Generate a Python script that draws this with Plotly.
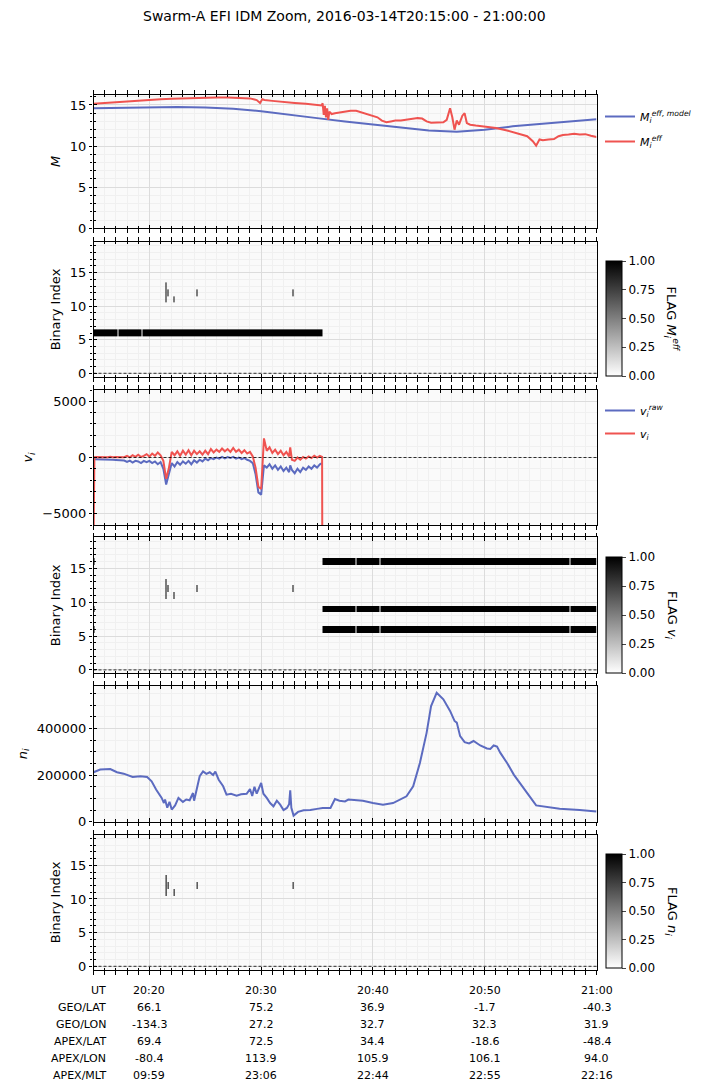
import pandas as pd
import plotly.graph_objects as go

# ---------------- data ----------------
BASE = pd.Timestamp("2016-03-14 20:15:00")
X_END = pd.Timestamp("2016-03-14 21:00:00")

# Effective ion mass (minutes after 20:15:00)
m_model_t = [0, 2.5, 5, 7.5, 10, 12.5, 15, 17.5, 20, 22.5, 25, 27.5, 30, 32.5, 35, 37.5, 40, 42.5, 45]
m_model = [14.6, 14.65, 14.7, 14.75, 14.7, 14.55, 14.25, 13.8, 13.4, 13.0, 12.65, 12.25, 11.9, 11.75,
           12.0, 12.4, 12.7, 12.95, 13.25]

m_eff_t = [0, 1, 2, 3, 4, 5, 6, 7, 8, 9, 10, 11, 12, 13, 14, 14.6, 14.9, 15.1, 15.3, 16, 17, 18, 19, 20,
           20.4, 20.5, 20.6, 20.7, 20.8, 20.9, 21.0, 21.1, 21.3, 21.6, 22, 22.5, 23, 23.5, 24, 24.5, 25,
           25.4, 25.8, 26.2, 26.6, 27, 27.5, 28, 28.5, 29, 29.4, 29.8, 30.2, 30.8, 31.3, 31.6, 31.9, 32.1,
           32.3, 32.5, 32.7, 33.0, 33.2, 33.4, 33.7, 34.2, 35, 36, 37, 38, 38.8, 39.3, 39.6, 39.9, 40.2,
           40.7, 41.2, 41.6, 42, 42.5, 43, 43.5, 44, 44.5, 45]
m_eff = [15.15, 15.25, 15.35, 15.45, 15.55, 15.6, 15.7, 15.75, 15.8, 15.85, 15.85, 15.9, 15.9, 15.85, 15.8,
         15.6, 15.25, 15.7, 15.6, 15.5, 15.35, 15.25, 15.15, 15.05, 14.95, 15.2, 13.8, 14.9, 13.5, 14.6,
         13.2, 14.2, 13.9, 14.0, 14.1, 14.2, 14.3, 14.3, 14.1, 13.9, 13.7, 13.5, 13.1, 12.9, 13.0, 13.1,
         13.1, 13.2, 13.3, 13.4, 13.35, 13.0, 12.85, 12.85, 12.9, 13.2, 14.6, 13.5, 12.0, 13.1, 12.6,
         13.7, 14.0, 12.8, 12.6, 12.5, 12.35, 12.2, 11.9, 11.5, 11.2, 10.6, 10.05, 10.8, 10.7, 10.8,
         10.85, 11.2, 11.35, 11.4, 11.5, 11.4, 11.45, 11.25, 11.1]

# Ion drift velocity (minutes after 20:15:00)
v_t = [0.0, 0.08, 0.25, 0.5, 0.75, 1.0, 1.25, 1.5, 1.75, 2.0, 2.25, 2.5, 2.75, 3.0, 3.25, 3.5, 3.75, 4.0,
       4.25, 4.5, 4.75, 5.0, 5.25, 5.5, 5.75, 6.0, 6.25, 6.5, 6.75, 7.0, 7.25, 7.5, 7.75, 8.0, 8.25, 8.5,
       8.75, 9.0, 9.25, 9.5, 9.75, 10.0, 10.25, 10.5, 10.75, 11.0, 11.25, 11.5, 11.75, 12.0, 12.25, 12.5,
       12.75, 13.0, 13.25, 13.5, 13.75, 14.0, 14.25, 14.5, 14.75, 15.0, 15.25, 15.5, 15.75, 16.0, 16.25,
       16.5, 16.75, 17.0, 17.25, 17.5, 17.6, 17.75, 18.0, 18.25, 18.5, 18.75, 19.0, 19.25, 19.5, 19.75,
       20.0, 20.25, 20.45, 20.47]
v_raw = [None, -150, -150, -160, -150, -170, -160, -180, -200, -220, -250, -300, -270, -400, -280, -450,
         -300, -350, -500, -300, -420, -300, -500, -350, -600, -400, -1000, -2400, -1500, -500, -800, -400,
         -650, -350, -550, -300, -600, -250, -450, -200, -350, -100, -250, -50, -150, 0, -100, 50, -80, 30,
         -50, 50, -100, 0, -150, -50, -200, -300, -500, -1500, -3100, -3300, -700, -900, -600, -1000, -700,
         -1100, -800, -1200, -900, -1300, -700, -1100, -1400, -1000, -1300, -900, -1100, -800, -1000, -700,
         -900, -600, -500, None]
v_i = [-8000, 30, 40, 30, 50, 40, 30, 60, 20, 50, 40, 80, 30, 150, 20, 200, 60, 250, 50, 150, 300, 80,
       350, 150, 450, 200, -300, -1900, -900, 500, 200, 550, 150, 600, 250, 650, 200, 600, 300, 550, 250,
       600, 300, 750, 450, 700, 500, 800, 550, 750, 500, 850, 500, 700, 400, 650, 350, 500, 100, -900,
       -2600, -2800, 1700, 600, 900, 400, 700, 300, 600, 200, 500, 100, 900, -200, -300, 0, -200, 50,
       -100, 100, -50, 150, 0, 150, 50, -8000]

# Ion density (minutes after 20:15:00)
n_t = [0, 0.6, 1.5, 2.1, 2.7, 3.5, 4.2, 4.8, 5.2, 5.6, 6.1, 6.3, 6.4, 6.6, 6.8, 7.0, 7.3, 7.5, 7.6, 8.0,
       8.3, 8.6, 8.9, 9.0, 9.2, 9.5, 9.8, 10.1, 10.4, 10.7, 10.9, 11.2, 11.6, 11.9, 12.3, 12.8, 13.2, 13.7,
       14.0, 14.2, 14.4, 14.6, 15.0, 15.2, 15.5, 15.8, 16.1, 16.4, 16.7, 17.0, 17.3, 17.5, 17.6, 17.7,
       17.9, 18.3, 18.8, 19.4, 20.0, 20.5, 21.2, 21.6, 22.0, 22.5, 22.8, 23.4, 24.1, 25.0, 25.9, 26.8,
       28.0, 28.6, 29.2, 29.8, 30.2, 30.7, 31.3, 31.9, 32.3, 32.5, 32.8, 33.2, 33.6, 34.0, 34.6, 35.2,
       35.5, 35.8, 36.1, 36.4, 37.0, 37.6, 38.4, 39.0, 39.6, 40.5, 41.7, 43.5, 45]
n_i = [212e3, 224e3, 226e3, 212e3, 206e3, 192e3, 195e3, 192e3, 173e3, 138e3, 102e3, 80e3, 95e3, 60e3,
       85e3, 52e3, 70e3, 95e3, 102e3, 85e3, 95e3, 92e3, 123e3, 90e3, 130e3, 195e3, 216e3, 205e3, 212e3,
       200e3, 215e3, 180e3, 152e3, 116e3, 120e3, 112e3, 118e3, 120e3, 140e3, 110e3, 150e3, 120e3, 166e3,
       120e3, 102e3, 80e3, 66e3, 90e3, 73e3, 50e3, 59e3, 75e3, 135e3, 60e3, 26e3, 42e3, 49e3, 50e3,
       55e3, 59e3, 59e3, 97e3, 90e3, 87e3, 95e3, 92e3, 90e3, 80e3, 73e3, 80e3, 109e3, 152e3, 252e3,
       381e3, 496e3, 553e3, 525e3, 475e3, 432e3, 425e3, 367e3, 341e3, 336e3, 346e3, 327e3, 314e3,
       312e3, 327e3, 322e3, 295e3, 252e3, 202e3, 152e3, 110e3, 70e3, 63e3, 56e3, 50e3, 44e3]

# Quality flags: (start minute, end minute, bit)
common_start = [6.45, 6.45, 6.45, 6.63, 7.15, 9.20, 17.80]
common_end = [6.54, 6.54, 6.54, 6.72, 7.24, 9.29, 17.89]
common_bit = [11, 12, 13, 12, 11, 12, 12]

flagM_start = [0.0, 2.24, 4.40] + common_start
flagM_end = [2.15, 4.32, 20.50] + common_end
flagM_bit = [6, 6, 6] + common_bit

flagV_start = ([0.0, 0.0, 0.0] + [20.45, 23.53, 25.68, 42.68] * 3) + common_start
flagV_end = ([0.13, 0.13, 0.13] + [23.43, 25.58, 42.58, 45.0] * 3) + common_end
flagV_bit = ([16, 9, 6] + [16] * 4 + [9] * 4 + [6] * 4) + common_bit

flagN_start = list(common_start)
flagN_end = list(common_end)
flagN_bit = list(common_bit)

N_BITS = 20

# Bottom table
ut_ticks = ["20:20", "20:30", "20:40", "20:50", "21:00"]
table_rows = ["UT", "GEO/LAT", "GEO/LON", "APEX/LAT", "APEX/LON", "APEX/MLT"]
geo_lat = ["66.1", "75.2", "36.9", "-1.7", "-40.3"]
geo_lon = ["-134.3", "27.2", "32.7", "32.3", "31.9"]
apex_lat = ["69.4", "72.5", "34.4", "-18.6", "-48.4"]
apex_lon = ["-80.4", "113.9", "105.9", "106.1", "94.0"]
apex_mlt = ["09:59", "23:06", "22:44", "22:55", "22:16"]

# ---------------- helpers ----------------
def T(mins):
    return [BASE + pd.Timedelta(minutes=m) for m in mins]


def flag_grid(starts, ends, bits):
    edges = sorted(set(starts) | set(ends))
    z = [[None] * (len(edges) - 1) for _ in range(N_BITS)]
    for k in range(len(edges) - 1):
        a, b = edges[k], edges[k + 1]
        for s, e, bit in zip(starts, ends, bits):
            if s <= a and b <= e:
                z[bit][k] = 1
    y_edges = [i - 0.5 for i in range(N_BITS + 1)]
    return T(edges), y_edges, z


BLUE = "#5c6bc0"
RED = "#ef5350"
FONT = "DejaVu Sans"
W, H = 707, 1090
XD = [93.5 / W, 596.5 / W]
panels_px = [(94.7, 228.3), (241.7, 377.3), (390, 525), (537.3, 673.3), (686, 821.7), (835, 970)]
doms = [[1 - b / H, 1 - t / H] for t, b in panels_px]

fig = go.Figure()

# Panel 1
fig.add_trace(go.Scatter(x=T(m_model_t), y=m_model, mode="lines", line=dict(color=BLUE, width=2),
                         name="<i>M<sub>i</sub><sup>eff, model</sup></i>", xaxis="x", yaxis="y",
                         legend="legend", legendgroup="a"))
fig.add_trace(go.Scatter(x=T(m_eff_t), y=m_eff, mode="lines", line=dict(color=RED, width=2),
                         name="<i>M<sub>i</sub><sup>eff</sup></i>", xaxis="x", yaxis="y",
                         legend="legend", legendgroup="b"))
# Panel 3
fig.add_trace(go.Scatter(x=T(v_t), y=v_raw, mode="lines", line=dict(color=BLUE, width=2),
                         name="<i>v<sub>i</sub><sup>raw</sup></i>", xaxis="x3", yaxis="y3", legend="legend2",
                         legendgroup="c", connectgaps=False))
fig.add_trace(go.Scatter(x=T(v_t), y=v_i, mode="lines", line=dict(color=RED, width=2),
                         name="<i>v<sub>i</sub></i>", xaxis="x3", yaxis="y3", legend="legend2",
                         legendgroup="d"))
# Panel 5
fig.add_trace(go.Scatter(x=T(n_t), y=n_i, mode="lines", line=dict(color=BLUE, width=2),
                         showlegend=False, xaxis="x5", yaxis="y5"))

# Flag heatmaps
flag_sets = [(flagM_start, flagM_end, flagM_bit, 2, "FLAG <i>M<sub>i</sub><sup>eff</sup></i>"),
             (flagV_start, flagV_end, flagV_bit, 4, "FLAG <i>v<sub>i</sub></i>"),
             (flagN_start, flagN_end, flagN_bit, 6, "FLAG <i>n<sub>i</sub></i>")]
cb_px = {2: (261, 376), 4: (557, 673), 6: (854, 968)}
cb_titles = []
for s, e, b, idx, title in flag_sets:
    xe, ye, z = flag_grid(s, e, b)
    t0, t1 = cb_px[idx]
    fig.add_trace(go.Heatmap(
        x=xe, y=ye, z=z, zmin=0, zmax=1, xaxis=f"x{idx}", yaxis=f"y{idx}",
        colorscale=[[0, "#ffffff"], [1, "#000000"]], zsmooth=False, hoverinfo="skip",
        colorbar=dict(x=606 / W, xanchor="left", y=1 - (t0 + t1) / 2 / H, yanchor="middle",
                      len=t1 - t0, lenmode="pixels", thickness=16, ypad=0, xpad=0,
                      outlinewidth=1, outlinecolor="black",
                      tickvals=[0, 0.25, 0.5, 0.75, 1], ticktext=["0.00", "0.25", "0.50", "0.75", "1.00"],
                      ticks="outside", ticklen=4, tickfont=dict(size=12, family=FONT, color="black"))))
    cb_titles.append(dict(text=title, xref="paper", yref="paper", x=672 / W, y=1 - (t0 + t1) / 2 / H,
                          xanchor="center", yanchor="middle", textangle=90, showarrow=False,
                          font=dict(size=13, family=FONT, color="black")))

yranges = [[0, 16.25], [-0.6, 19.6], [-6000, 6000], [-0.5, 19.6], [0, 582000], [-0.55, 19.5]]
ydticks = [5, 5, 5000, 5, 200000, 5]
yminor = [1, 1, 1000, 1, 50000, 1]
ytitles = ["<i>M</i>", "Binary Index", "<i>v<sub>i</sub></i>", "Binary Index", "<i>n<sub>i</sub></i>",
           "Binary Index"]

xr = [BASE, X_END]
tick0 = BASE + pd.Timedelta(minutes=5)
layout = {}
for i in range(1, 7):
    sfx = "" if i == 1 else str(i)
    layout[f"xaxis{sfx}"] = dict(
        domain=XD, anchor=f"y{sfx}", type="date", range=xr, tick0=tick0, dtick=600000,
        showticklabels=False, ticks="outside", ticklen=3.5, tickcolor="black", tickwidth=1.2,
        mirror="allticks", showline=True, linecolor="black", linewidth=1.2,
        showgrid=True, gridcolor="#dcdcdc", gridwidth=1, zeroline=False,
        minor=dict(dtick=60000, tick0=tick0, ticks="outside", ticklen=2.5, tickcolor="black",
                   showgrid=True, gridcolor="#f0f0f0", gridwidth=1),
        **({} if i == 1 else {"matches": "x"}))
    layout[f"yaxis{sfx}"] = dict(
        domain=doms[i - 1], anchor=f"x{sfx}", range=yranges[i - 1], dtick=ydticks[i - 1], tick0=0,
        ticks="outside", ticklen=3.5, tickcolor="black", tickwidth=1.2, showline=True,
        linecolor="black", linewidth=1.2, mirror=True, showgrid=True, gridcolor="#dcdcdc",
        zeroline=False, tickfont=dict(size=13, family=FONT, color="black"), tickformat="d",
        title=dict(text=ytitles[i - 1], font=dict(size=13, family=FONT, color="black"), standoff=6),
        minor=dict(dtick=yminor[i - 1], ticks="outside", ticklen=2.5, tickcolor="black",
                   showgrid=True, gridcolor="#f0f0f0"))
    # overlay axes for inward half of tick marks
    layout[f"xaxis{6 + i}"] = dict(
        overlaying=f"x{sfx}" if sfx else "x", anchor=f"y{sfx}", type="date", range=xr, tick0=tick0,
        dtick=600000, showticklabels=False, ticks="inside", ticklen=3.5, tickcolor="black",
        tickwidth=1.2, mirror="allticks", showline=False, showgrid=False, zeroline=False,
        minor=dict(dtick=60000, tick0=tick0, ticks="inside", ticklen=2.5, tickcolor="black",
                   showgrid=False))
    layout[f"yaxis{6 + i}"] = dict(
        overlaying=f"y{sfx}" if sfx else "y", anchor=f"x{sfx}", range=yranges[i - 1],
        dtick=ydticks[i - 1], tick0=0, showticklabels=False, ticks="inside", ticklen=3.5,
        tickcolor="black", tickwidth=1.2, showline=False, showgrid=False, zeroline=False,
        minor=dict(dtick=yminor[i - 1], ticks="inside", ticklen=2.5, tickcolor="black", showgrid=False))
    fig.add_trace(go.Scatter(x=[], y=[], xaxis=f"x{6 + i}", yaxis=f"y{sfx}", showlegend=False,
                             hoverinfo="skip"))
    fig.add_trace(go.Scatter(x=[], y=[], xaxis=f"x{sfx}", yaxis=f"y{6 + i}", showlegend=False,
                             hoverinfo="skip"))

shapes = []
for idx in (2, 3, 4, 6):
    shapes.append(dict(type="line", xref=f"x{idx} domain", x0=0, x1=1, yref=f"y{idx}", y0=0, y1=0,
                       line=dict(color="black", width=0.8, dash="3px,2px"), layer="above"))

annotations = [dict(text="Swarm-A EFI IDM Zoom, 2016-03-14T20:15:00 - 21:00:00", xref="paper", yref="paper",
                    x=344.5 / W, y=1 - 16 / H, xanchor="center", yanchor="middle", showarrow=False,
                    font=dict(size=14, family=FONT, color="black"))]
annotations += cb_titles
row_y = [990, 1007, 1024, 1041, 1058, 1075]
row_vals = [ut_ticks, geo_lat, geo_lon, apex_lat, apex_lon, apex_mlt]
tick_times = T([5, 15, 25, 35, 45])
for r, (lab, vals) in enumerate(zip(table_rows, row_vals)):
    annotations.append(dict(text=lab, xref="paper", yref="paper", x=108 / W, y=1 - row_y[r] / H,
                            xanchor="right", yanchor="middle", showarrow=False,
                            font=dict(size=11, family=FONT, color="black")))
    for tt, v in zip(tick_times, vals):
        annotations.append(dict(text=v, xref="x6", yref="paper", x=tt, y=1 - row_y[r] / H,
                                xanchor="center", yanchor="middle", showarrow=False,
                                font=dict(size=11, family=FONT, color="black")))

fig.update_layout(
    width=W, height=H, autosize=False, margin=dict(l=0, r=0, t=0, b=0, autoexpand=False),
    paper_bgcolor="white", plot_bgcolor="#fafafa", font=dict(family=FONT, color="black"),
    shapes=shapes, annotations=annotations,
    legend=dict(x=600 / W, y=1 - 102 / H, xanchor="left", yanchor="top", bgcolor="rgba(0,0,0,0)",
                font=dict(size=11, family=FONT), itemwidth=30, tracegroupgap=6),
    legend2=dict(x=600 / W, y=1 - 396 / H, xanchor="left", yanchor="top", bgcolor="rgba(0,0,0,0)",
                 font=dict(size=11, family=FONT), itemwidth=30, tracegroupgap=4),
    **layout)

fig.write_html("out.html")
